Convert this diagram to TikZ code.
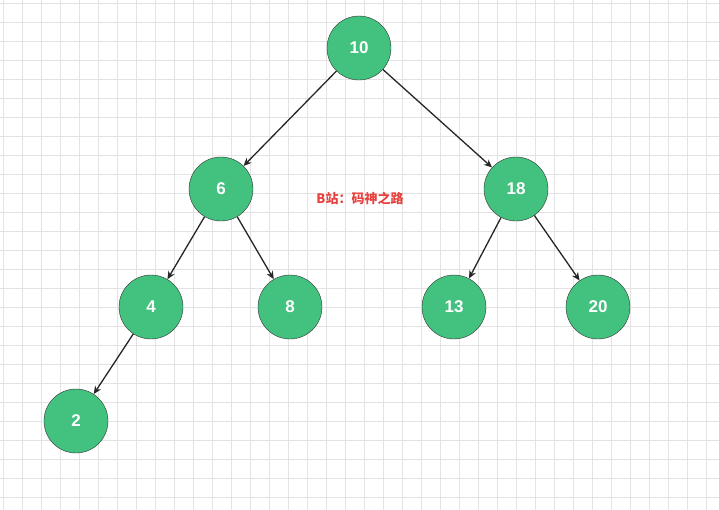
\documentclass[tikz,border=0pt]{standalone}
\usepackage{fontspec}
\setmainfont{Liberation Sans}
\newfontfamily\cjk{Noto Sans CJK SC}
\usetikzlibrary{arrows.meta}
\definecolor{nodegreen}{HTML}{42C17F}
\definecolor{labelred}{HTML}{E8413F}
\definecolor{gridgray}{HTML}{E3E3E3}

\begin{document}
\begin{tikzpicture}[x=1pt,y=-1pt]
		\useasboundingbox (0,0) rectangle (719,509);
		\draw[gridgray, step=19pt, shift={(3pt,-3pt)}] (-3,-3) grid (722,512);
		\begin{scope}
            [
                styleKey/.style={
					circle, draw=black!80, fill=nodegreen, minimum size=64pt,
					text=white, font=\bfseries\fontsize{17pt}{19pt}\selectfont
					},
            ]
			\node(n10)[styleKey] at (359,48) {10};
			\node(n6)[styleKey] at (221,189) {6};
			\node(n18)[styleKey] at (516,189) {18};
			\node(n4)[styleKey] at (151,307) {4};
			\node(n8)[styleKey] at (290,307) {8};
			\node(n13)[styleKey] at (454,307) {13};
			\node(n20)[styleKey] at (598,307) {20};
			\node(n2)[styleKey] at (76,421) {2};

			\node(tag)[text=labelred, font=\cjk\bfseries\fontsize{13pt}{15pt}\selectfont] at (360,198) {B站：码神之路};
		\end{scope}
		\begin{scope}
            [-{Stealth[length=8pt,width=7pt]}, line width=1.3pt, black!85]
            \path
			(n10) edge (n6)
			(n10) edge (n18)
			(n6) edge (n4)
			(n6) edge (n8)
			(n18) edge (n13)
			(n18) edge (n20)
			(n4) edge (n2);
		\end{scope}
    \end{tikzpicture}
\end{document}
